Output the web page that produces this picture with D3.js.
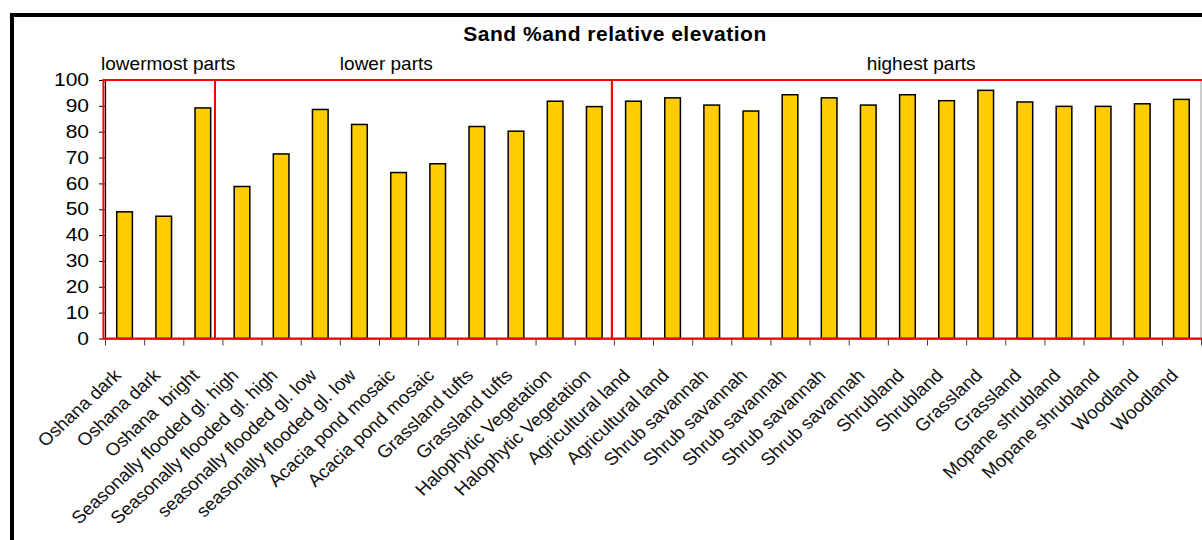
<!DOCTYPE html>
<html>
<head>
<meta charset="utf-8">
<script src="https://cdn.jsdelivr.net/npm/d3@7/dist/d3.min.js"></script>
<style>
  html, body { margin: 0; padding: 0; background: #fff; }
  svg { display: block; font-family: "Liberation Sans", Arial, sans-serif; }
  text { white-space: pre; }
</style>
</head>
<body>
<svg id="chart" width="1202" height="540"></svg>
<script>
// Land-cover classes along the x axis (one bar each)
const categories = [
  "Oshana dark", "Oshana dark", "Oshana  bright",
  "Seasonally flooded gl. high", "Seasonally flooded gl. high",
  "seasonally flooded gl. low", "seasonally flooded gl. low",
  "Acacia pond mosaic", "Acacia pond mosaic",
  "Grassland tufts", "Grassland tufts",
  "Halophytic Vegetation", "Halophytic Vegetation",
  "Agricultural land", "Agricultural land",
  "Shrub savannah", "Shrub savannah", "Shrub savannah", "Shrub savannah", "Shrub savannah",
  "Shrubland", "Shrubland",
  "Grassland", "Grassland",
  "Mopane shrubland", "Mopane shrubland",
  "Woodland", "Woodland"
];

// Sand content (%) per class
const sandPercent = [
  49.0, 47.3, 89.2,
  58.8, 71.4,
  88.6, 82.8,
  64.2, 67.6,
  82.0, 80.2,
  91.8, 89.7,
  91.8, 93.1,
  90.3, 88.0, 94.3, 93.1, 90.3,
  94.3, 92.0,
  96.0, 91.5,
  89.8, 89.8,
  90.8, 92.5
];

const yTicks = [0, 10, 20, 30, 40, 50, 60, 70, 80, 90, 100];

// Elevation zones: names, outline extent and label start, in category units
const zoneNames  = ["lowermost parts", "lower parts", "highest parts"];
const zoneStart  = [-0.04, 2.81, 12.95];
const zoneEnd    = [2.81, 12.95, 28.2];
const zoneLabelAt = [-0.1, 6.0, 19.46];

const titleText = "Sand %and relative elevation";

(function draw() {
  const svg = d3.select("#chart");
  const W = 1202, H = 540;
  const plotLeft = 105, plotRight = 1201, plotTop = 80, plotBottom = 338.5;
  const widenY = 1.2;   // value labels are drawn horizontally widened
  const widenX = 1.08;  // category labels slightly widened

  // outer chart frame (runs past the right and bottom edges)
  svg.append("rect")
    .attr("x", 12).attr("y", 15)
    .attr("width", W).attr("height", H)
    .attr("fill", "#fff")
    .attr("stroke", "#000").attr("stroke-width", 4);

  const n = categories.length;
  const x = d3.scaleBand()
    .domain(d3.range(n))
    .range([plotLeft, plotRight])
    .paddingInner(0.6)
    .paddingOuter(0.3);
  const xi = d3.scaleLinear().domain([0, n]).range([plotLeft, plotRight]);
  const y = d3.scaleLinear().domain([0, 100]).range([plotBottom, plotTop]);

  // plot area right border
  svg.append("line")
    .attr("x1", plotRight).attr("x2", plotRight)
    .attr("y1", plotTop).attr("y2", plotBottom)
    .attr("stroke", "#999").attr("stroke-width", 1);

  // title
  svg.append("text")
    .attr("x", 615).attr("y", 41)
    .attr("text-anchor", "middle")
    .attr("font-weight", "bold")
    .attr("font-size", 21)
    .attr("letter-spacing", 0.5)
    .attr("fill", "#000")
    .text(titleText);

  // y axis
  const yAxis = svg.append("g")
    .attr("transform", `translate(${plotLeft},0)`)
    .call(d3.axisLeft(y).tickValues(yTicks).tickSize(6).tickPadding(10).tickSizeOuter(0));
  yAxis.select(".domain").attr("stroke", "#000").attr("stroke-width", 1.2);
  yAxis.selectAll(".tick line").attr("stroke", "#000");
  yAxis.selectAll(".tick text")
    .attr("x", -16 / widenY)
    .attr("transform", `scale(${widenY},1)`)
    .attr("font-size", 17.5)
    .attr("font-family", "Liberation Sans, Arial, sans-serif")
    .attr("fill", "#000");

  // x axis: ticks between categories
  const xAxis = svg.append("g")
    .attr("transform", `translate(0,${plotBottom})`)
    .call(d3.axisBottom(xi).tickValues(d3.range(n + 1)).tickFormat("").tickSize(7).tickSizeOuter(0));
  xAxis.select(".domain").attr("stroke", "#000").attr("stroke-width", 1.2);
  xAxis.selectAll(".tick line").attr("stroke", "#444");

  // bars
  svg.append("g").selectAll("rect")
    .data(sandPercent)
    .join("rect")
    .attr("x", (d, i) => x(i))
    .attr("y", d => y(d))
    .attr("width", x.bandwidth())
    .attr("height", d => y(0) - y(d))
    .attr("fill", "#FFCC00")
    .attr("stroke", "#000")
    .attr("stroke-width", 1.5);

  // category labels, rotated
  svg.append("g").selectAll("text")
    .data(categories)
    .join("text")
    .attr("transform", (d, i) =>
      `translate(${x(i) + x.bandwidth() / 2 - 12},${plotBottom + 29}) scale(${widenX},1) rotate(-45)`)
    .attr("text-anchor", "end")
    .attr("dy", "0.72em")
    .attr("font-size", 17.6)
    .attr("fill", "#111")
    .text(d => d);

  // elevation zone outlines
  svg.append("g").selectAll("rect")
    .data(zoneNames)
    .join("rect")
    .attr("x", (d, i) => xi(zoneStart[i]))
    .attr("y", plotTop)
    .attr("width", (d, i) => xi(zoneEnd[i]) - xi(zoneStart[i]))
    .attr("height", plotBottom - plotTop)
    .attr("fill", "none")
    .attr("stroke", "#FF0000")
    .attr("stroke-width", 2);

  // elevation zone labels
  svg.append("g").selectAll("text")
    .data(zoneNames)
    .join("text")
    .attr("x", (d, i) => xi(zoneLabelAt[i]))
    .attr("y", 70)
    .attr("font-size", 19)
    .attr("fill", "#000")
    .text(d => d);
})();
</script>
</body>
</html>
